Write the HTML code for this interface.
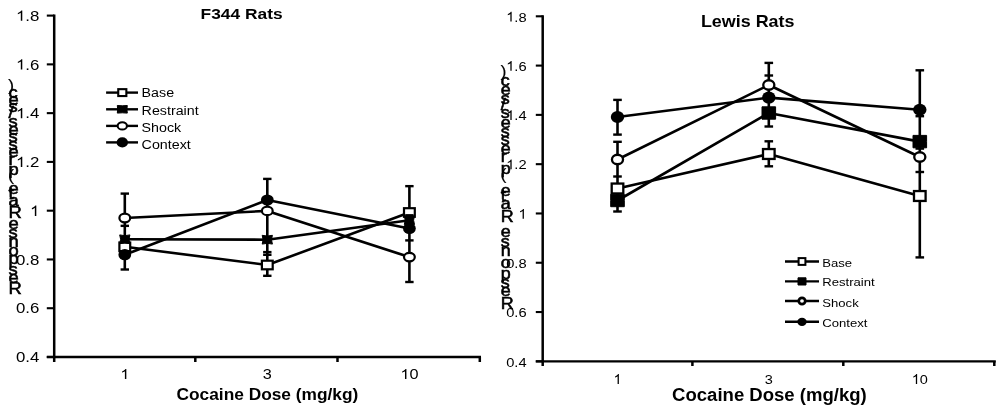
<!DOCTYPE html>
<html><head><meta charset="utf-8"><title>Cocaine dose response</title>
<style>html,body{margin:0;padding:0;background:#fff;width:1000px;height:410px;overflow:hidden}svg{display:block;will-change:transform}text{font-family:"Liberation Sans",sans-serif;fill:#000}</style></head><body>
<svg width="1000" height="410" viewBox="0 0 1000 410">
<rect width="1000" height="410" fill="#fff"/>
<g stroke="#000" stroke-width="2.5" fill="none" stroke-linecap="butt">
<line x1="54.2" y1="14.6" x2="54.2" y2="362"/>
<line x1="46.8" y1="15.6" x2="54.2" y2="15.6" stroke-width="2.1"/>
<line x1="46.8" y1="64.37" x2="54.2" y2="64.37" stroke-width="2.1"/>
<line x1="46.8" y1="113.14" x2="54.2" y2="113.14" stroke-width="2.1"/>
<line x1="46.8" y1="161.91" x2="54.2" y2="161.91" stroke-width="2.1"/>
<line x1="46.8" y1="210.68" x2="54.2" y2="210.68" stroke-width="2.1"/>
<line x1="46.8" y1="259.45" x2="54.2" y2="259.45" stroke-width="2.1"/>
<line x1="46.8" y1="308.22" x2="54.2" y2="308.22" stroke-width="2.1"/>
<line x1="46.8" y1="356.99" x2="54.2" y2="356.99" stroke-width="2.1"/>
<line x1="46.8" y1="357" x2="481" y2="357" stroke-width="2.3"/>
<line x1="195.3" y1="357" x2="195.3" y2="362" stroke-width="2.5"/>
<line x1="337.5" y1="357" x2="337.5" y2="362" stroke-width="2.5"/>
<line x1="479.8" y1="357" x2="479.8" y2="362" stroke-width="2.5"/>
</g>
<path transform="translate(16.02,20.8) scale(0.00821,-0.00708)" d="M583 0H763V1472H646Q598 1375 484 1276Q372 1175 222 1104V930Q305 961 412 1023Q518 1085 583 1147Z"/>
<text transform="translate(25.37,20.8) scale(1.16,1)" font-size="14.5" text-anchor="start">.8</text>
<path transform="translate(16.02,69.57) scale(0.00821,-0.00708)" d="M583 0H763V1472H646Q598 1375 484 1276Q372 1175 222 1104V930Q305 961 412 1023Q518 1085 583 1147Z"/>
<text transform="translate(25.37,69.57) scale(1.16,1)" font-size="14.5" text-anchor="start">.6</text>
<path transform="translate(16.02,118.34) scale(0.00821,-0.00708)" d="M583 0H763V1472H646Q598 1375 484 1276Q372 1175 222 1104V930Q305 961 412 1023Q518 1085 583 1147Z"/>
<text transform="translate(25.37,118.34) scale(1.16,1)" font-size="14.5" text-anchor="start">.4</text>
<path transform="translate(16.02,167.11) scale(0.00821,-0.00708)" d="M583 0H763V1472H646Q598 1375 484 1276Q372 1175 222 1104V930Q305 961 412 1023Q518 1085 583 1147Z"/>
<text transform="translate(25.37,167.11) scale(1.16,1)" font-size="14.5" text-anchor="start">.2</text>
<path transform="translate(30.05,215.88) scale(0.00821,-0.00708)" d="M583 0H763V1472H646Q598 1375 484 1276Q372 1175 222 1104V930Q305 961 412 1023Q518 1085 583 1147Z"/>
<text transform="translate(16.02,264.65) scale(1.16,1)" font-size="14.5" text-anchor="start">0.8</text>
<text transform="translate(16.02,313.42) scale(1.16,1)" font-size="14.5" text-anchor="start">0.6</text>
<text transform="translate(16.02,362.19) scale(1.16,1)" font-size="14.5" text-anchor="start">0.4</text>
<path transform="translate(120.28,379.1) scale(0.00793,-0.00684)" d="M583 0H763V1472H646Q598 1375 484 1276Q372 1175 222 1104V930Q305 961 412 1023Q518 1085 583 1147Z"/>
<text transform="translate(262.78,379.1) scale(1.16,1)" font-size="14" text-anchor="start">3</text>
<path transform="translate(400.37,379.1) scale(0.00793,-0.00684)" d="M583 0H763V1472H646Q598 1375 484 1276Q372 1175 222 1104V930Q305 961 412 1023Q518 1085 583 1147Z"/>
<text transform="translate(409.4,379.1) scale(1.16,1)" font-size="14" text-anchor="start">0</text>
<text transform="translate(241.6,19.3) scale(1.15,1)" font-size="15.1" text-anchor="middle" font-weight="bold">F344 Rats</text>
<text transform="translate(267.4,400.3) scale(1.11,1)" font-size="15.6" text-anchor="middle" font-weight="bold">Cocaine Dose (mg/kg)</text>
<g stroke="#000" stroke-width="0.55">
<g stroke-width="0.15">
<text transform="translate(8.1,90.5) scale(1.15,1)" font-size="16" text-anchor="start">)</text>
</g>
<text transform="translate(8.4,98) scale(1.15,1)" font-size="16" text-anchor="start">c</text>
<text transform="translate(8.4,105) scale(1.15,1)" font-size="16" text-anchor="start">e</text>
<text transform="translate(8.4,111.5) scale(1.15,1)" font-size="16" text-anchor="start">s</text>
<text transform="translate(8.4,118) scale(1.15,1)" font-size="16" text-anchor="start">/</text>
<text transform="translate(8.4,126.8) scale(1.15,1)" font-size="16" text-anchor="start">s</text>
<text transform="translate(8.4,134.5) scale(1.15,1)" font-size="16" text-anchor="start">e</text>
<text transform="translate(8.4,142.3) scale(1.15,1)" font-size="16" text-anchor="start">s</text>
<text transform="translate(8.4,149.7) scale(1.15,1)" font-size="16" text-anchor="start">s</text>
<text transform="translate(8.4,157.4) scale(1.15,1)" font-size="16" text-anchor="start">e</text>
<text transform="translate(8.4,165) scale(1.15,1)" font-size="16" text-anchor="start">r</text>
<text transform="translate(8.4,175.4) scale(1.15,1)" font-size="16" text-anchor="start">p</text>
<g stroke-width="0.15">
<text transform="translate(8.1,180.5) scale(1.15,1)" font-size="16" text-anchor="start">(</text>
</g>
<text transform="translate(8.4,193.5) scale(1.15,1)" font-size="16" text-anchor="start">e</text>
<text transform="translate(8.4,198.5) scale(1.15,1)" font-size="16" text-anchor="start">t</text>
<text transform="translate(8.4,206) scale(1.15,1)" font-size="16" text-anchor="start">a</text>
<text transform="translate(8.4,217.5) scale(1.15,1)" font-size="16" text-anchor="start">R</text>
<text transform="translate(8.4,229) scale(1.15,1)" font-size="16" text-anchor="start">e</text>
<text transform="translate(8.4,238.3) scale(1.15,1)" font-size="16" text-anchor="start">s</text>
<text transform="translate(8.4,246.7) scale(1.15,1)" font-size="16" text-anchor="start">n</text>
<text transform="translate(8.4,256) scale(1.15,1)" font-size="16" text-anchor="start">o</text>
<text transform="translate(8.4,264.3) scale(1.15,1)" font-size="16" text-anchor="start">p</text>
<text transform="translate(8.4,274.5) scale(1.15,1)" font-size="16" text-anchor="start">s</text>
<text transform="translate(8.4,282.9) scale(1.15,1)" font-size="16" text-anchor="start">e</text>
<text transform="translate(8.4,293.9) scale(1.15,1)" font-size="16" text-anchor="start">R</text>
</g>
<g stroke="#000" fill="none">
<line x1="124.8" y1="193.6" x2="124.8" y2="269.5" stroke-width="2.6"/>
<line x1="120.6" y1="193.6" x2="129" y2="193.6" stroke-width="2.4"/>
<line x1="120.6" y1="225.85" x2="129" y2="225.85" stroke-width="2.4"/>
<line x1="120.6" y1="269.5" x2="129" y2="269.5" stroke-width="2.4"/>
<line x1="267.3" y1="178.9" x2="267.3" y2="275.8" stroke-width="2.6"/>
<line x1="263.1" y1="178.9" x2="271.5" y2="178.9" stroke-width="2.4"/>
<line x1="263.1" y1="252.1" x2="271.5" y2="252.1" stroke-width="2.4"/>
<line x1="263.1" y1="254.8" x2="271.5" y2="254.8" stroke-width="2.4"/>
<line x1="263.1" y1="275.8" x2="271.5" y2="275.8" stroke-width="2.4"/>
<line x1="409.4" y1="186.15" x2="409.4" y2="282" stroke-width="2.6"/>
<line x1="405.2" y1="186.15" x2="413.6" y2="186.15" stroke-width="2.4"/>
<line x1="405.2" y1="240.4" x2="413.6" y2="240.4" stroke-width="2.4"/>
<line x1="405.2" y1="282" x2="413.6" y2="282" stroke-width="2.4"/>
</g>
<g stroke="#000" stroke-width="2.6" fill="none" stroke-linejoin="round">
<polyline points="124.8,246.8 267.3,265 409.4,212.5"/>
<polyline points="124.8,239.3 267.3,239.7 409.4,220.2"/>
<polyline points="124.8,218 267.3,210.9 409.4,257.1"/>
<polyline points="124.8,254.7 267.3,200 409.4,228.5"/>
</g>
<rect x="119.4" y="242.5" width="10.8" height="8.6" fill="#fff" stroke="#000" stroke-width="2.2"/>
<rect x="261.9" y="260.7" width="10.8" height="8.6" fill="#fff" stroke="#000" stroke-width="2.2"/>
<rect x="404" y="208.2" width="10.8" height="8.6" fill="#fff" stroke="#000" stroke-width="2.2"/>
<path d="M119.7,234.9 L124.8,235.69 L129.9,234.9 L128.98,239.3 L129.9,243.7 L124.8,242.91 L119.7,243.7 L120.62,239.3 Z" fill="#000" stroke="#000" stroke-width="1" stroke-linejoin="round"/>
<path d="M262.2,235.3 L267.3,236.09 L272.4,235.3 L271.48,239.7 L272.4,244.1 L267.3,243.31 L262.2,244.1 L263.12,239.7 Z" fill="#000" stroke="#000" stroke-width="1" stroke-linejoin="round"/>
<path d="M404.3,215.8 L409.4,216.59 L414.5,215.8 L413.58,220.2 L414.5,224.6 L409.4,223.81 L404.3,224.6 L405.22,220.2 Z" fill="#000" stroke="#000" stroke-width="1" stroke-linejoin="round"/>
<ellipse cx="124.8" cy="218" rx="5.4" ry="4.3" fill="#fff" stroke="#000" stroke-width="2.2"/>
<ellipse cx="267.3" cy="210.9" rx="5.4" ry="4.3" fill="#fff" stroke="#000" stroke-width="2.2"/>
<ellipse cx="409.4" cy="257.1" rx="5.4" ry="4.3" fill="#fff" stroke="#000" stroke-width="2.2"/>
<ellipse cx="124.8" cy="254.7" rx="6.4" ry="5.6" fill="#000"/>
<ellipse cx="267.3" cy="200" rx="6.4" ry="5.6" fill="#000"/>
<ellipse cx="409.4" cy="228.5" rx="6.4" ry="5.6" fill="#000"/>
<g stroke="#000" fill="none">
<line x1="405.2" y1="215.3" x2="413.6" y2="215.3" stroke-width="2.4"/>
</g>
<g stroke="#000" fill="none">
<line x1="106.1" y1="92.6" x2="138" y2="92.6" stroke-width="2.4"/>
<line x1="106.1" y1="109.3" x2="138" y2="109.3" stroke-width="2.4"/>
<line x1="106.1" y1="125.9" x2="138" y2="125.9" stroke-width="2.4"/>
<line x1="106.1" y1="142.4" x2="138" y2="142.4" stroke-width="2.4"/>
</g>
<rect x="118.25" y="89.15" width="8.1" height="6.9" fill="#fff" stroke="#000" stroke-width="2.1"/>
<path d="M117.3,105.5 L122.3,105.8 L127.3,105.5 L126.9,109.3 L127.3,113.1 L122.3,112.8 L117.3,113.1 L117.7,109.3 Z" fill="#000" stroke="#000" stroke-width="1" stroke-linejoin="round"/>
<ellipse cx="122.3" cy="125.9" rx="4.65" ry="3.65" fill="#fff" stroke="#000" stroke-width="2.1"/>
<ellipse cx="122.3" cy="142.4" rx="5.7" ry="5.1" fill="#000"/>
<text transform="translate(141.6,97.4) scale(1.16,1)" font-size="12.3" text-anchor="start">Base</text>
<text transform="translate(141.6,114.5) scale(1.16,1)" font-size="12.3" text-anchor="start">Restraint</text>
<text transform="translate(141.6,131.6) scale(1.16,1)" font-size="12.3" text-anchor="start">Shock</text>
<text transform="translate(141.6,148.7) scale(1.16,1)" font-size="12.3" text-anchor="start">Context</text>
<g stroke="#000" stroke-width="2.5" fill="none" stroke-linecap="butt">
<line x1="542.7" y1="15.3" x2="542.7" y2="366"/>
<line x1="535.8" y1="16.3" x2="542.7" y2="16.3" stroke-width="2.1"/>
<line x1="535.8" y1="65.59" x2="542.7" y2="65.59" stroke-width="2.1"/>
<line x1="535.8" y1="114.88" x2="542.7" y2="114.88" stroke-width="2.1"/>
<line x1="535.8" y1="164.17" x2="542.7" y2="164.17" stroke-width="2.1"/>
<line x1="535.8" y1="213.46" x2="542.7" y2="213.46" stroke-width="2.1"/>
<line x1="535.8" y1="262.75" x2="542.7" y2="262.75" stroke-width="2.1"/>
<line x1="535.8" y1="312.04" x2="542.7" y2="312.04" stroke-width="2.1"/>
<line x1="535.8" y1="361.33" x2="542.7" y2="361.33" stroke-width="2.1"/>
<line x1="535.8" y1="361.3" x2="995.8" y2="361.3" stroke-width="2.3"/>
<line x1="692.4" y1="361.3" x2="692.4" y2="366" stroke-width="2.5"/>
<line x1="843.3" y1="361.3" x2="843.3" y2="366" stroke-width="2.5"/>
<line x1="994.3" y1="361.3" x2="994.3" y2="366" stroke-width="2.5"/>
</g>
<path transform="translate(506.18,21.5) scale(0.00717,-0.00664)" d="M583 0H763V1472H646Q598 1375 484 1276Q372 1175 222 1104V930Q305 961 412 1023Q518 1085 583 1147Z"/>
<text transform="translate(514.35,21.5) scale(1.08,1)" font-size="13.6" text-anchor="start">.8</text>
<path transform="translate(506.18,70.79) scale(0.00717,-0.00664)" d="M583 0H763V1472H646Q598 1375 484 1276Q372 1175 222 1104V930Q305 961 412 1023Q518 1085 583 1147Z"/>
<text transform="translate(514.35,70.79) scale(1.08,1)" font-size="13.6" text-anchor="start">.6</text>
<path transform="translate(506.18,120.08) scale(0.00717,-0.00664)" d="M583 0H763V1472H646Q598 1375 484 1276Q372 1175 222 1104V930Q305 961 412 1023Q518 1085 583 1147Z"/>
<text transform="translate(514.35,120.08) scale(1.08,1)" font-size="13.6" text-anchor="start">.4</text>
<path transform="translate(506.18,169.37) scale(0.00717,-0.00664)" d="M583 0H763V1472H646Q598 1375 484 1276Q372 1175 222 1104V930Q305 961 412 1023Q518 1085 583 1147Z"/>
<text transform="translate(514.35,169.37) scale(1.08,1)" font-size="13.6" text-anchor="start">.2</text>
<path transform="translate(518.43,218.66) scale(0.00717,-0.00664)" d="M583 0H763V1472H646Q598 1375 484 1276Q372 1175 222 1104V930Q305 961 412 1023Q518 1085 583 1147Z"/>
<text transform="translate(506.18,267.95) scale(1.08,1)" font-size="13.6" text-anchor="start">0.8</text>
<text transform="translate(506.18,317.24) scale(1.08,1)" font-size="13.6" text-anchor="start">0.6</text>
<text transform="translate(506.18,366.53) scale(1.08,1)" font-size="13.6" text-anchor="start">0.4</text>
<path transform="translate(613.46,383.9) scale(0.00709,-0.00669)" d="M583 0H763V1472H646Q598 1375 484 1276Q372 1175 222 1104V930Q305 961 412 1023Q518 1085 583 1147Z"/>
<text transform="translate(764.76,383.9) scale(1.06,1)" font-size="13.7" text-anchor="start">3</text>
<path transform="translate(911.72,383.9) scale(0.00709,-0.00669)" d="M583 0H763V1472H646Q598 1375 484 1276Q372 1175 222 1104V930Q305 961 412 1023Q518 1085 583 1147Z"/>
<text transform="translate(919.8,383.9) scale(1.06,1)" font-size="13.7" text-anchor="start">0</text>
<text transform="translate(747.7,27.2) scale(1.08,1)" font-size="16.6" text-anchor="middle" font-weight="bold">Lewis Rats</text>
<text transform="translate(769.4,401) scale(1.06,1)" font-size="17.5" text-anchor="middle" font-weight="bold">Cocaine Dose (mg/kg)</text>
<g stroke="#000" stroke-width="0.55">
<g stroke-width="0.15">
<text transform="translate(500.5,77.2) scale(1.12,1)" font-size="16" text-anchor="start">)</text>
</g>
<text transform="translate(500.8,85.8) scale(1.12,1)" font-size="16" text-anchor="start">c</text>
<text transform="translate(500.8,94.5) scale(1.12,1)" font-size="16" text-anchor="start">e</text>
<text transform="translate(500.8,103.7) scale(1.12,1)" font-size="16" text-anchor="start">s</text>
<text transform="translate(500.8,109.5) scale(1.12,1)" font-size="16" text-anchor="start">/</text>
<text transform="translate(500.8,118.3) scale(1.12,1)" font-size="16" text-anchor="start">s</text>
<text transform="translate(500.8,127.9) scale(1.12,1)" font-size="16" text-anchor="start">e</text>
<text transform="translate(500.8,137) scale(1.12,1)" font-size="16" text-anchor="start">s</text>
<text transform="translate(500.8,145) scale(1.12,1)" font-size="16" text-anchor="start">s</text>
<text transform="translate(500.8,154.1) scale(1.12,1)" font-size="16" text-anchor="start">e</text>
<text transform="translate(500.8,162) scale(1.12,1)" font-size="16" text-anchor="start">r</text>
<text transform="translate(500.8,173.5) scale(1.12,1)" font-size="16" text-anchor="start">p</text>
<g stroke-width="0.15">
<text transform="translate(500.5,179.6) scale(1.12,1)" font-size="16" text-anchor="start">(</text>
</g>
<text transform="translate(500.8,195.5) scale(1.12,1)" font-size="16" text-anchor="start">e</text>
<text transform="translate(500.8,200.5) scale(1.12,1)" font-size="16" text-anchor="start">t</text>
<text transform="translate(500.8,208.9) scale(1.12,1)" font-size="16" text-anchor="start">a</text>
<text transform="translate(500.8,222.1) scale(1.12,1)" font-size="16" text-anchor="start">R</text>
<text transform="translate(500.8,237.3) scale(1.12,1)" font-size="16" text-anchor="start">e</text>
<text transform="translate(500.8,246.5) scale(1.12,1)" font-size="16" text-anchor="start">s</text>
<text transform="translate(500.8,256) scale(1.12,1)" font-size="16" text-anchor="start">n</text>
<text transform="translate(500.8,267.5) scale(1.12,1)" font-size="16" text-anchor="start">o</text>
<text transform="translate(500.8,278.5) scale(1.12,1)" font-size="16" text-anchor="start">p</text>
<text transform="translate(500.8,288.2) scale(1.12,1)" font-size="16" text-anchor="start">s</text>
<text transform="translate(500.8,296) scale(1.12,1)" font-size="16" text-anchor="start">e</text>
<text transform="translate(500.8,309) scale(1.12,1)" font-size="16" text-anchor="start">R</text>
</g>
<g stroke="#000" fill="none">
<line x1="617.5" y1="99.9" x2="617.5" y2="134.6" stroke-width="2.6"/>
<line x1="617.5" y1="141.8" x2="617.5" y2="211.5" stroke-width="2.6"/>
<line x1="613.2" y1="99.9" x2="621.8" y2="99.9" stroke-width="2.4"/>
<line x1="613.2" y1="134.6" x2="621.8" y2="134.6" stroke-width="2.4"/>
<line x1="613.2" y1="141.8" x2="621.8" y2="141.8" stroke-width="2.4"/>
<line x1="613.2" y1="176.5" x2="621.8" y2="176.5" stroke-width="2.4"/>
<line x1="613.2" y1="211.5" x2="621.8" y2="211.5" stroke-width="2.4"/>
<line x1="768.8" y1="62.9" x2="768.8" y2="126.5" stroke-width="2.6"/>
<line x1="768.8" y1="141.3" x2="768.8" y2="166.3" stroke-width="2.6"/>
<line x1="764.5" y1="62.9" x2="773.1" y2="62.9" stroke-width="2.4"/>
<line x1="764.5" y1="75.5" x2="773.1" y2="75.5" stroke-width="2.4"/>
<line x1="764.5" y1="126.5" x2="773.1" y2="126.5" stroke-width="2.4"/>
<line x1="764.5" y1="141.3" x2="773.1" y2="141.3" stroke-width="2.4"/>
<line x1="764.5" y1="166.3" x2="773.1" y2="166.3" stroke-width="2.4"/>
<line x1="919.8" y1="70.3" x2="919.8" y2="257.4" stroke-width="2.6"/>
<line x1="915.5" y1="70.3" x2="924.1" y2="70.3" stroke-width="2.4"/>
<line x1="915.5" y1="116.2" x2="924.1" y2="116.2" stroke-width="2.4"/>
<line x1="915.5" y1="148.6" x2="924.1" y2="148.6" stroke-width="2.4"/>
<line x1="915.5" y1="172" x2="924.1" y2="172" stroke-width="2.4"/>
<line x1="915.5" y1="257.4" x2="924.1" y2="257.4" stroke-width="2.4"/>
</g>
<g stroke="#000" stroke-width="2.6" fill="none" stroke-linejoin="round">
<polyline points="617.5,188.5 768.8,154 919.8,196"/>
<polyline points="617.5,200.5 768.8,113 919.8,141.6"/>
<polyline points="617.5,159.5 768.8,85 919.8,157"/>
<polyline points="617.5,117 768.8,97.6 919.8,109.8"/>
</g>
<rect x="611.7" y="183.55" width="11.6" height="9.9" fill="#fff" stroke="#000" stroke-width="2.3"/>
<rect x="763" y="149.05" width="11.6" height="9.9" fill="#fff" stroke="#000" stroke-width="2.3"/>
<rect x="914" y="191.05" width="11.6" height="9.9" fill="#fff" stroke="#000" stroke-width="2.3"/>
<path d="M610.7,194.3 L617.5,194.3 L624.3,194.3 L624.3,200.5 L624.3,206.7 L617.5,206.7 L610.7,206.7 L610.7,200.5 Z" fill="#000" stroke="#000" stroke-width="1" stroke-linejoin="round"/>
<path d="M762,106.8 L768.8,106.8 L775.6,106.8 L775.6,113 L775.6,119.2 L768.8,119.2 L762,119.2 L762,113 Z" fill="#000" stroke="#000" stroke-width="1" stroke-linejoin="round"/>
<path d="M913,135.4 L919.8,135.4 L926.6,135.4 L926.6,141.6 L926.6,147.8 L919.8,147.8 L913,147.8 L913,141.6 Z" fill="#000" stroke="#000" stroke-width="1" stroke-linejoin="round"/>
<ellipse cx="617.5" cy="159.5" rx="5.55" ry="4.75" fill="#fff" stroke="#000" stroke-width="2.3"/>
<ellipse cx="768.8" cy="85" rx="5.55" ry="4.75" fill="#fff" stroke="#000" stroke-width="2.3"/>
<ellipse cx="919.8" cy="157" rx="5.55" ry="4.75" fill="#fff" stroke="#000" stroke-width="2.3"/>
<ellipse cx="617.5" cy="117" rx="6.7" ry="6.1" fill="#000"/>
<ellipse cx="768.8" cy="97.6" rx="6.7" ry="6.1" fill="#000"/>
<ellipse cx="919.8" cy="109.8" rx="6.7" ry="6.1" fill="#000"/>
<g stroke="#000" fill="none">
</g>
<g stroke="#000" fill="none">
<line x1="785" y1="261.5" x2="819" y2="261.5" stroke-width="2.4"/>
<line x1="785" y1="281.4" x2="819" y2="281.4" stroke-width="2.4"/>
<line x1="785" y1="301" x2="819" y2="301" stroke-width="2.4"/>
<line x1="785" y1="321.8" x2="819" y2="321.8" stroke-width="2.4"/>
</g>
<rect x="798.6" y="258.1" width="6.8" height="6.8" fill="#fff" stroke="#000" stroke-width="2"/>
<path d="M798,277.8 L802,277.8 L806,277.8 L806,281.4 L806,285 L802,285 L798,285 L798,281.4 Z" fill="#000" stroke="#000" stroke-width="1" stroke-linejoin="round"/>
<ellipse cx="802" cy="301" rx="3.25" ry="3.05" fill="#fff" stroke="#000" stroke-width="2.7"/>
<ellipse cx="802" cy="321.8" rx="4.7" ry="4.1" fill="#000"/>
<text transform="translate(822.3,266.6) scale(1.13,1)" font-size="11.6" text-anchor="start">Base</text>
<text transform="translate(822.3,286.1) scale(1.13,1)" font-size="11.6" text-anchor="start">Restraint</text>
<text transform="translate(822.3,306.9) scale(1.13,1)" font-size="11.6" text-anchor="start">Shock</text>
<text transform="translate(822.3,326.6) scale(1.13,1)" font-size="11.6" text-anchor="start">Context</text>
</svg></body></html>
